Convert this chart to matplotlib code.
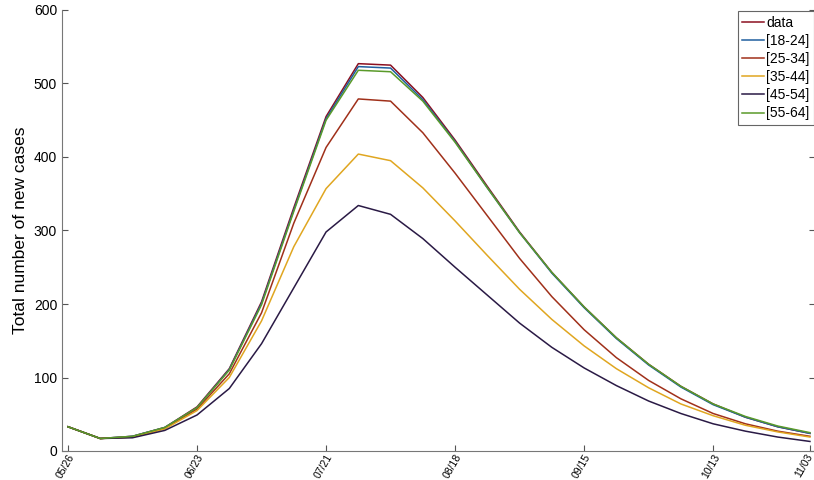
#!/usr/bin/env python3
"""Weekly new cases: observed data vs. age-group model fits."""

import matplotlib
matplotlib.use("Agg")
import matplotlib.pyplot as plt
import matplotlib.transforms as mtransforms
import pandas as pd

plt.rcParams["font.family"] = ["Liberation Sans", "DejaVu Sans"]

weeks = pd.date_range("2020-05-26", periods=24, freq="7D")
tick_labels = ["05/26", "06/23", "07/21", "08/18", "09/15", "10/13", "11/03"]

data = [33, 17, 20, 32, 60, 112, 203, 331, 455, 527, 525, 481,
        423, 360, 298, 243, 196, 154, 118, 88, 64, 46, 33, 24]
age_18_24 = [33, 17, 20, 32, 59, 111, 201, 328, 452, 523, 521, 478,
             421, 358, 297, 242, 195, 153, 117, 87, 63, 46, 33, 24]
age_25_34 = [33, 17, 19, 31, 57, 105, 188, 310, 413, 479, 476, 433,
             378, 320, 262, 210, 165, 127, 96, 71, 51, 37, 27, 20]
age_35_44 = [33, 17, 19, 30, 55, 100, 177, 278, 357, 404, 395, 358,
             313, 266, 220, 179, 143, 112, 86, 64, 48, 35, 26, 19]
age_45_54 = [33, 17, 18, 28, 49, 85, 146, 222, 298, 334, 322, 289,
             250, 212, 174, 141, 113, 89, 68, 51, 37, 27, 19, 13]
age_55_64 = [33, 17, 20, 32, 59, 110, 199, 326, 450, 518, 516, 476,
             420, 358, 297, 243, 196, 154, 118, 88, 64, 47, 34, 25]

series = [
    ("data", data, "#8b1020"),
    ("[18-24]", age_18_24, "#1f5f9f"),
    ("[25-34]", age_25_34, "#a0301a"),
    ("[35-44]", age_35_44, "#e0a620"),
    ("[45-54]", age_45_54, "#2a1a45"),
    ("[55-64]", age_55_64, "#5a9a2a"),
]

fig = plt.figure(figsize=(8.14, 4.8), dpi=100)
ax = fig.add_axes([62 / 814, 29 / 480, 753 / 814, 441 / 480])

for label, values, color in series:
    ax.plot(weeks, values, color=color, lw=1.1, label=label)

ax.set_ylim(0, 600)
ax.set_xlim(weeks[0] - pd.Timedelta(days=1.3), weeks[-1] + pd.Timedelta(days=1.1))
ax.set_yticks(range(0, 601, 100))
ticks = [pd.Timestamp("2020-" + t.replace("/", "-")) for t in tick_labels]
ax.set_xticks(ticks)
ax.set_xticklabels(tick_labels, rotation=60, ha="right", rotation_mode="anchor",
                   fontsize=7.5)
ax.tick_params(axis="y", labelsize=10, direction="in", right=True, length=4,
               color="#555555")
ax.tick_params(axis="x", direction="in", length=4, color="#555555", pad=1)
ax.set_ylabel("Total number of new cases", fontsize=12.5, labelpad=4)

# last date label sits on the right edge; nudge it inside the canvas
last = ax.get_xticklabels()[-1]
last.set_transform(last.get_transform()
                   + mtransforms.ScaledTranslation(-4 / 100, 0, fig.dpi_scale_trans))

for side in ["left", "bottom", "right"]:
    ax.spines[side].set_color("#777777")
    ax.spines[side].set_linewidth(0.8)
ax.spines["top"].set_visible(False)

leg = ax.legend(loc="upper right", fontsize=10, handlelength=1.6,
                handletextpad=0.15, labelspacing=0.3, borderpad=0.3,
                borderaxespad=0.1, fancybox=False, framealpha=1)
leg.get_frame().set_edgecolor("#666666")
leg.get_frame().set_linewidth(0.8)

fig.savefig("out.png", dpi=100)
